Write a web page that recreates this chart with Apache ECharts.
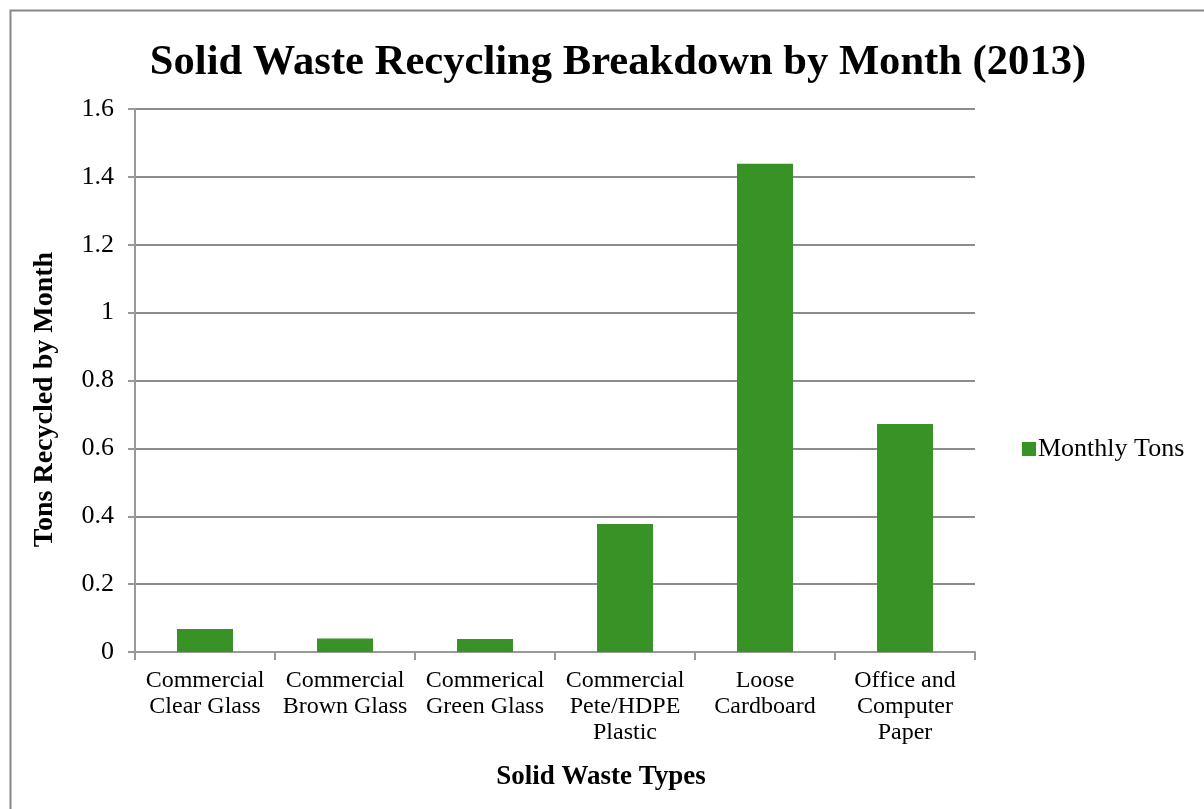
<!DOCTYPE html>
<html>
<head>
<meta charset="utf-8">
<script src="https://cdn.jsdelivr.net/npm/echarts@6/dist/echarts.min.js"></script>
<style>
html,body{margin:0;padding:0;background:#fff;}
#chart{width:1204px;height:809px;}
</style>
</head>
<body>
<div id="chart"></div>
<script>
const categories = [
  "Commercial\nClear Glass",
  "Commercial\nBrown Glass",
  "Commerical\nGreen Glass",
  "Commercial\nPete/HDPE\nPlastic",
  "Loose\nCardboard",
  "Office and\nComputer\nPaper"
];
const monthlyTons = [0.068, 0.040, 0.038, 0.377, 1.439, 0.672];
const seriesName = "Monthly Tons";
const titleText = "Solid Waste Recycling Breakdown by Month (2013)";
const yAxisName = "Tons Recycled by Month";
const xAxisName = "Solid Waste Types";

const FONT = "'Liberation Serif', 'Times New Roman', serif";
const chart = echarts.init(document.getElementById('chart'), null, {renderer: 'canvas'});
chart.setOption({
  animation: false,
  backgroundColor: '#fff',
  textStyle: {fontFamily: FONT},
  title: {
    text: titleText,
    left: 613, top: 36, textAlign: 'center',
    textStyle: {fontFamily: FONT, fontWeight: 'bold', fontSize: 42.6, color: '#000'}
  },
  graphic: [{
    type: 'rect', left: 8, top: 8, silent: true,
    shape: {x: 0, y: 0, width: 1210, height: 820},
    style: {fill: 'none', stroke: '#888', lineWidth: 2}
  }],
  legend: {
    data: [seriesName],
    left: 1017, top: 431,
    itemWidth: 14, itemHeight: 14, itemGap: 6,
    icon: 'rect',
    textStyle: {fontFamily: FONT, fontSize: 26, color: '#000', padding: [0,0,0,-3]}
  },
  grid: {left: 135, right: 229, top: 109, bottom: 157, containLabel: false},
  xAxis: {
    type: 'category',
    data: categories,
    name: xAxisName,
    nameLocation: 'middle',
    nameGap: 112,
    nameTextStyle: {fontFamily: FONT, fontWeight: 'bold', fontSize: 27, color: '#000', padding: [0,0,0,92]},
    axisLine: {lineStyle: {color: '#999', width: 2}},
    axisTick: {show: true, alignWithLabel: false, length: 8, lineStyle: {color: '#999', width: 2}},
    axisLabel: {fontFamily: FONT, fontSize: 24, color: '#000', lineHeight: 26, margin: 16, interval: 0}
  },
  yAxis: {
    type: 'value',
    min: 0, max: 1.6, interval: 0.2,
    name: yAxisName,
    nameLocation: 'middle',
    nameGap: 76,
    nameRotate: 90,
    nameTextStyle: {fontFamily: FONT, fontWeight: 'bold', fontSize: 28, color: '#000', padding: [0,38,0,0]},
    axisLine: {show: true, lineStyle: {color: '#999', width: 2}},
    axisTick: {show: true, length: 7, lineStyle: {color: '#999', width: 2}},
    axisLabel: {fontFamily: FONT, fontSize: 26, color: '#000', margin: 21,
      formatter: v => String(Math.round(v*10)/10)},
    splitLine: {show: true, lineStyle: {color: '#8c8c8c', width: 2}}
  },
  series: [{
    name: seriesName,
    type: 'bar',
    data: monthlyTons,
    barWidth: '40%',
    itemStyle: {color: '#389225'}
  }]
});
</script>
</body>
</html>
